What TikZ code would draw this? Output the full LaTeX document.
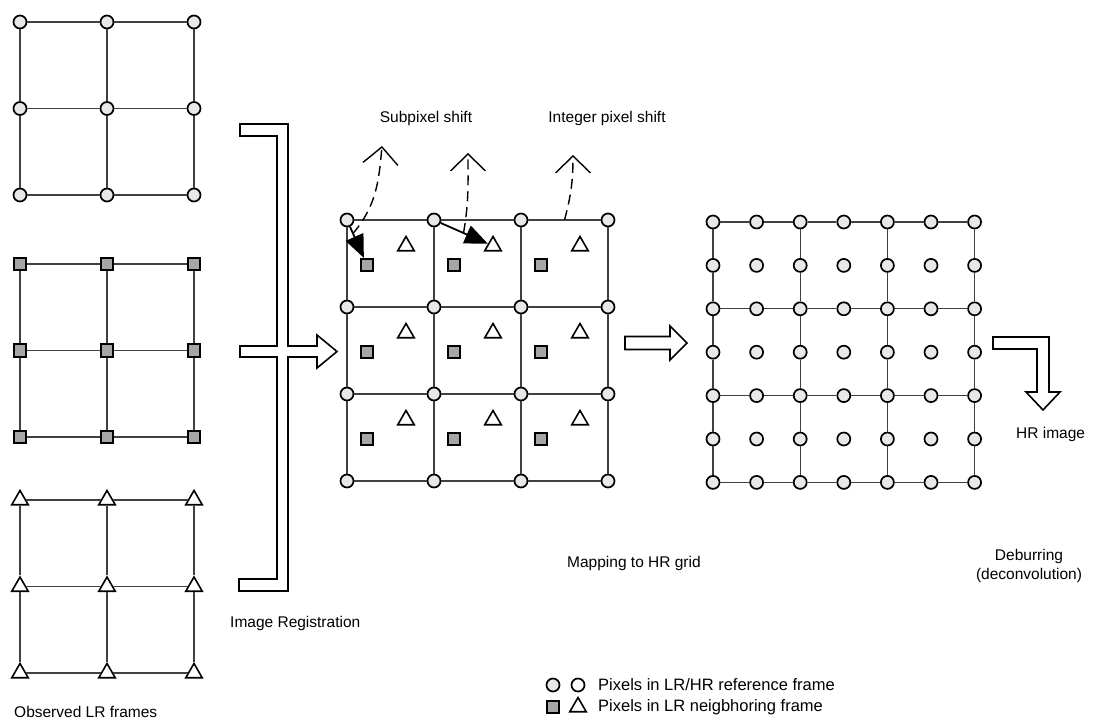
\documentclass[tikz,border=0pt]{standalone}
\usepackage{fontspec}
\setmainfont{Liberation Sans}
\usetikzlibrary{arrows.meta,shapes.geometric,calc}

\tikzset{
  refpix/.style={circle,draw,line width=1.7pt,fill=gray!18,minimum size=13pt,inner sep=0pt},
  hrpix/.style={refpix,fill=white},
  nbrsq/.style={rectangle,draw,line width=1.6pt,fill=gray!70,minimum size=12.5pt,inner sep=0pt},
  nbrtri/.style={regular polygon,regular polygon sides=3,draw,line width=1.6pt,fill=white,minimum size=19pt,inner sep=0pt},
  gridline/.style={line width=1.1pt,black!75},
  blockarrow/.style={line width=1.6pt,fill=white,line join=miter},
  shiftarrow/.style={line width=1.8pt,-{Triangle[length=23pt,width=19pt]}},
  callout/.style={line width=1.4pt,dash pattern=on 10pt off 6pt,-{Straight Barb[length=17pt,width=35pt,line width=1.4pt]}},
  lbl/.style={font=\fontsize{15.5}{19}\selectfont,inner sep=0pt},
  legendlbl/.style={font=\fontsize{16.5}{19}\selectfont,inner sep=0pt,anchor=west},
}

\begin{document}
\begin{tikzpicture}[x=1pt,y=1pt]
\useasboundingbox (0,0) rectangle (1106,-728);

% observed LR frames
\foreach \f/\yy/\sty in {a/22/refpix,b/264/nbrsq,c/500/nbrtri} {
  \foreach \i in {0,1,2}
    \foreach \j in {0,1,2}
      \node[\sty] (\f\i\j) at ({20+87*\i},{-\yy-86.5*\j}) {};
  \foreach \i in {0,1,2} {
    \draw[gridline] (\f\i0) -- (\f\i1) -- (\f\i2);
    \draw[gridline] (\f0\i) -- (\f1\i) -- (\f2\i);
  }
}
\node[lbl,anchor=west] (obs) at (14,-712) {Observed LR frames};

% registration bracket
\draw[blockarrow] (240,-124) -- (288,-124) -- (288,-346) -- (317,-346) -- (317,-335)
  -- (337,-351.5) -- (317,-368) -- (317,-357) -- (288,-357) -- (288,-591)
  -- (239,-591) -- (239,-579) -- (277,-579) -- (277,-357) -- (240,-357)
  -- (240,-346) -- (277,-346) -- (277,-136) -- (240,-136) -- cycle;
\node[lbl,anchor=west] (reg) at (230,-623) {Image Registration};

% mapping to the HR grid
\foreach \i in {0,...,3}
  \foreach \j in {0,...,3}
    \node[refpix] (m\i\j) at ({347+87*\i},{-220-87*\j}) {};
\foreach \i in {0,...,3} {
  \draw[gridline] (m\i0) -- (m\i1) -- (m\i2) -- (m\i3);
  \draw[gridline] (m0\i) -- (m1\i) -- (m2\i) -- (m3\i);
}
\foreach \i in {0,1,2}
  \foreach \j in {0,1,2} {
    \node[nbrsq] (s\i\j) at ({367+87*\i},{-265-87*\j}) {};
    \node[nbrtri] (t\i\j) at ({406+87*\i},{-246-87*\j}) {};
  }
\node[lbl,anchor=west] (map) at (567,-563) {Mapping to HR grid};

% shifts
\draw[shiftarrow] (m00) -- (s00);
\draw[shiftarrow] (m10) -- (t10);
\coordinate (tipa) at (382,-146);
\coordinate (tipb) at (468,-153);
\coordinate (tipc) at (573,-155);
\draw[callout] ($(m00)!0.3!(s00)$) to[out=50,in=-95] (tipa);
\draw[callout] ($(m10)!0.5!(t10)$) to[out=80,in=-90] (tipb);
\draw[callout] ($(m20)!0.5!(m30)$) to[out=75,in=-90] (tipc);
\node[lbl] (sub) at (426,-118) {Subpixel shift};
\node[lbl] (int) at (607,-118) {Integer pixel shift};

\draw[blockarrow] (625,-336.5) -- (670,-336.5) -- (670,-326) -- (687,-343)
  -- (670,-360) -- (670,-349.5) -- (625,-349.5) -- cycle;

% HR grid
\foreach \i in {0,...,6}
  \foreach \j in {0,...,6}
    \node[refpix] (h\i\j) at ({713+43.6*\i},{-222-43.4*\j}) {};
\foreach \k in {0,2,4,6} {
  \draw[gridline] (h\k0) -- (h\k1) -- (h\k2) -- (h\k3) -- (h\k4) -- (h\k5) -- (h\k6);
  \draw[gridline] (h0\k) -- (h1\k) -- (h2\k) -- (h3\k) -- (h4\k) -- (h5\k) -- (h6\k);
}
\node[lbl,align=center] (deb) at (1029,-566) {Deburring\\(deconvolution)};

% deblurring step
\draw[blockarrow] (993,-337) -- (1049,-337) -- (1049,-392) -- (1060,-392) -- (1043,-410)
  -- (1026,-392) -- (1037,-392) -- (1037,-349) -- (993,-349) -- cycle;
\node[lbl,anchor=west] (hri) at (1016,-434) {HR image};

% legend
\node[refpix] (lga) at (553,-685) {};
\node[hrpix] (lgb) at (578,-685) {};
\node[nbrsq] (lgc) at (553,-707) {};
\node[nbrtri] (lgd) at (578,-707) {};
\node[legendlbl] (lgref) at (598,-685) {Pixels in LR/HR reference frame};
\node[legendlbl] (lgnbr) at (598,-707) {Pixels in LR neigbhoring frame};
\end{tikzpicture}
\end{document}
